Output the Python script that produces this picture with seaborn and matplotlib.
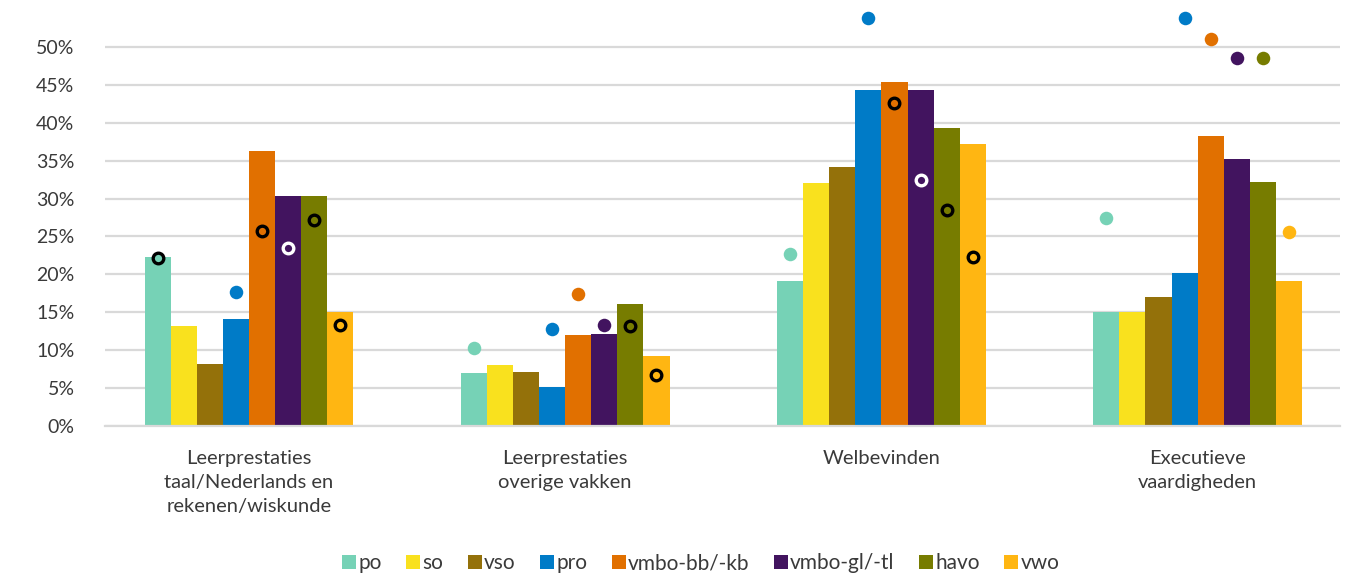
import numpy as np
import pandas as pd
import matplotlib
matplotlib.use("Agg")
import matplotlib.pyplot as plt
import seaborn as sns
from matplotlib.lines import Line2D

# --------------------------------------------------------------------------- #
# Data (in %)
# --------------------------------------------------------------------------- #
categories = [
    "Leerprestaties\ntaal/Nederlands en\nrekenen/wiskunde",
    "Leerprestaties\noverige vakken",
    "Welbevinden",
    "Executieve\nvaardigheden",
]
series = ["po", "so", "vso", "pro", "vmbo-bb/-kb", "vmbo-gl/-tl", "havo", "vwo"]

bar_values = {
    "po":          [22.3, 7.0, 19.1, 15.0],
    "so":          [13.2, 8.0, 32.1, 15.0],
    "vso":         [8.2, 7.1, 34.2, 17.0],
    "pro":         [14.1, 5.1, 44.3, 20.2],
    "vmbo-bb/-kb": [36.3, 12.0, 45.4, 38.3],
    "vmbo-gl/-tl": [30.3, 12.1, 44.3, 35.2],
    "havo":        [30.3, 16.1, 39.3, 32.2],
    "vwo":         [15.0, 9.2, 37.2, 19.1],
}
# second measurement, shown as dots
dot_values = {
    "po":          [22.2, 10.3, 22.7, 27.4],
    "so":          [np.nan, np.nan, np.nan, np.nan],
    "vso":         [np.nan, np.nan, np.nan, np.nan],
    "pro":         [17.7, 12.8, 53.8, 53.8],
    "vmbo-bb/-kb": [25.7, 17.4, 42.6, 51.0],
    "vmbo-gl/-tl": [23.5, 13.3, 32.4, 48.5],
    "havo":        [27.2, 13.2, 28.5, 48.5],
    "vwo":         [13.3, 6.7, 22.3, 25.6],
}

colors = ["#76D2B6", "#F9E11E", "#94710A", "#007BC7",
          "#E17000", "#42145F", "#777C00", "#FFB612"]
ring_colors = ["black", "black", "black", "black",
               "black", "white", "black", "black"]

# --------------------------------------------------------------------------- #
# Plot
# --------------------------------------------------------------------------- #
sns.set_theme(style="white")
plt.rcParams["font.family"] = ["Lato", "DejaVu Sans"]
TEXT = "#3a3a3a"

df = pd.DataFrame(
    [(c, s, bar_values[s][i]) for s in series for i, c in enumerate(categories)],
    columns=["categorie", "groep", "waarde"],
)

fig = plt.figure(figsize=(13.54, 5.73), dpi=100)
ax = fig.add_axes([105 / 1354, 147 / 573, 1235 / 1354, 417 / 573])

sns.barplot(
    data=df, x="categorie", y="waarde", hue="groep",
    order=categories, hue_order=series, palette=colors,
    width=0.66, gap=0, saturation=1, errorbar=None,
    linewidth=0, legend=False, ax=ax,
)

# dots: centred on each bar, ring style when inside the bar
for container, name, col, ring in zip(ax.containers, series, colors, ring_colors):
    for patch, dot, bar in zip(container.patches, dot_values[name], bar_values[name]):
        if np.isnan(dot):
            continue
        x = patch.get_x() + patch.get_width() / 2
        if dot <= bar:
            ax.scatter(x, dot, s=58, facecolor=col, edgecolor=ring,
                       linewidth=2.4, zorder=5)
        else:
            ax.scatter(x, dot, s=95, color=col, linewidth=0, zorder=5)

ax.set_xlim(-0.455, 3.45)
ax.set_ylim(0, 55)
ax.set_yticks(np.arange(0, 51, 5))
ax.set_yticklabels([f"{t}%" for t in range(0, 51, 5)], fontsize=14, color=TEXT)
ax.yaxis.grid(True, color="#D9D9D9", linewidth=1.6)
ax.set_axisbelow(True)
ax.tick_params(axis="y", length=0, pad=22)
ax.tick_params(axis="x", length=0, pad=17, labelsize=14.5, labelcolor=TEXT)
for lbl in ax.get_xticklabels():
    lbl.set_linespacing(1.5)
ax.set_xlabel("")
ax.set_ylabel("")
for side in ["top", "right", "left"]:
    ax.spines[side].set_visible(False)
ax.spines["bottom"].set_color("#D9D9D9")
ax.spines["bottom"].set_linewidth(1.6)

handles = [Line2D([], [], marker="s", linestyle="", markersize=10,
                  markerfacecolor=c, markeredgewidth=0) for c in colors]
fig.legend(handles, series, loc="center", bbox_to_anchor=(700 / 1354, 10 / 573),
           ncol=len(series), frameon=False, fontsize=15, handletextpad=0.05,
           columnspacing=1.1, handlelength=0.8, labelcolor=TEXT)

fig.savefig("out.png", dpi=100)
plt.close(fig)
